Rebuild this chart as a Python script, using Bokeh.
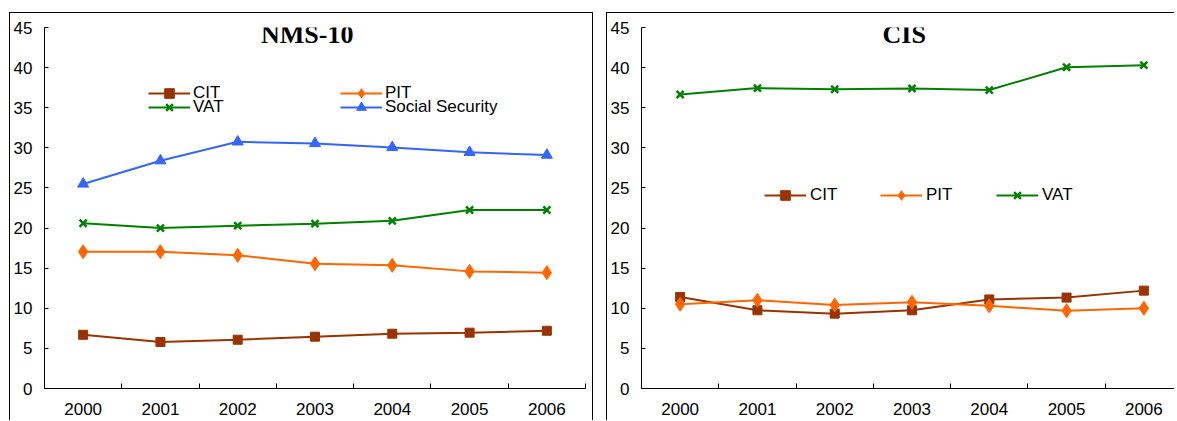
from bokeh.plotting import figure
from bokeh.models import Range1d, FixedTicker, Legend, LegendItem, Label, Spacer
from bokeh.layouts import row, column
from bokeh.embed import file_html
from bokeh.resources import INLINE

years = [2000, 2001, 2002, 2003, 2004, 2005, 2006]
y_ticks = [0, 5, 10, 15, 20, 25, 30, 35, 40, 45]

nms_cit = [6.7, 5.8, 6.08, 6.46, 6.83, 6.96, 7.2]
nms_pit = [17.05, 17.05, 16.6, 15.56, 15.35, 14.6, 14.44]
nms_vat = [20.6, 20.0, 20.3, 20.55, 20.9, 22.25, 22.25]
nms_ss = [25.5, 28.4, 30.75, 30.55, 30.05, 29.45, 29.1]

cis_cit = [11.4, 9.75, 9.33, 9.75, 11.1, 11.33, 12.2]
cis_pit = [10.5, 11.0, 10.4, 10.75, 10.3, 9.7, 10.0]
cis_vat = [36.65, 37.45, 37.3, 37.4, 37.2, 40.05, 40.3]

CIT_C = "#993300"
PIT_C = "#FF6600"
VAT_C = "#008000"
SS_C = "#3366FF"
SANS = "Liberation Sans"
SERIF = "Liberation Serif"


def make_panel(title, width, min_left, min_right, x_end, styles):
    p = figure(width=width, height=408, output_backend="svg", toolbar_location=None,
               x_range=Range1d(1999.5, x_end), y_range=Range1d(0, 45),
               min_border_left=min_left, min_border_right=min_right,
               min_border_top=14, min_border_bottom=33)
    p.styles = styles
    p.outline_line_alpha = 0
    p.xgrid.visible = False
    p.ygrid.visible = False
    p.background_fill_color = "white"
    p.border_fill_color = "white"

    p.yaxis.ticker = FixedTicker(ticks=y_ticks, minor_ticks=[])
    p.yaxis.major_tick_in = 4
    p.yaxis.major_tick_out = 0
    p.yaxis.minor_tick_in = 0
    p.yaxis.minor_tick_out = 0
    p.yaxis.major_label_standoff = 12

    p.xaxis.ticker = FixedTicker(ticks=years, minor_ticks=[1999.5 + i for i in range(8)])
    p.xaxis.major_tick_in = 0
    p.xaxis.major_tick_out = 0
    p.xaxis.minor_tick_in = 5
    p.xaxis.minor_tick_out = 0
    p.xaxis.major_label_standoff = 14

    for ax in (p.xaxis, p.yaxis):
        ax.axis_line_color = "black"
        ax.major_tick_line_color = "black"
        ax.minor_tick_line_color = "black"
        ax.major_label_text_font = SANS
        ax.major_label_text_font_size = "17px"
        ax.major_label_text_color = "black"

    p.add_layout(Label(x=2002.9, y=44.13, text=title, text_align="center",
                       text_baseline="middle", text_font=SERIF, text_font_style="bold",
                       text_font_size="26px", text_color="black"))
    return p


def add_series(p, vals, color, kind):
    l = p.line(years, vals, line_color=color, line_width=2)
    if kind == "square":
        m = p.scatter(years, vals, marker="square", size=9, fill_color=color, line_color=color)
    elif kind == "diamond":
        m = p.scatter(years, vals, marker="diamond", size=14, fill_color=color, line_color=color)
    elif kind == "triangle":
        m = p.scatter(years, vals, marker="triangle", size=11, fill_color=color, line_color=color)
    else:
        m = p.scatter(years, vals, marker="x", size=10, line_color=color, line_width=2.5)
    return [l, m]


def legend(items, loc, label_width, standoff):
    lg = Legend(items=items, location=loc, orientation="horizontal",
                glyph_width=42, glyph_height=24, label_width=label_width, label_height=24,
                label_standoff=standoff, spacing=0, padding=0, margin=0,
                border_line_alpha=0, background_fill_alpha=0,
                label_text_font=SANS, label_text_font_size="17px", label_text_color="black")
    return lg


X_END_LEFT = 2006.5
X_END_RIGHT = 1999.5 + 535 / 77.43

# Left panel: NMS-10
p1 = make_panel("NMS-10", 584, 33, 9, X_END_LEFT,
                {"border-left": "1px solid black", "border-top": "1px solid black",
                 "border-right": "1px solid black"})
r_cit = add_series(p1, nms_cit, CIT_C, "square")
r_pit = add_series(p1, nms_pit, PIT_C, "diamond")
r_vat = add_series(p1, nms_vat, VAT_C, "x")
r_ss = add_series(p1, nms_ss, SS_C, "triangle")
p1.add_layout(legend([LegendItem(label="CIT", renderers=r_cit),
                      LegendItem(label="PIT", renderers=r_pit)], (104, 283), 147, 3))
p1.add_layout(legend([LegendItem(label="VAT", renderers=r_vat),
                      LegendItem(label="Social Security", renderers=r_ss)], (104, 269), 147, 3))

# Right panel: CIS (cut at the window edge)
p2 = make_panel("CIS", 568, 33, 0, X_END_RIGHT,
                {"border-left": "1px solid black", "border-top": "1px solid black"})
c_cit = add_series(p2, cis_cit, CIT_C, "square")
c_pit = add_series(p2, cis_pit, PIT_C, "diamond")
c_vat = add_series(p2, cis_vat, VAT_C, "x")
p2.add_layout(legend([LegendItem(label="CIT", renderers=c_cit),
                      LegendItem(label="PIT", renderers=c_pit),
                      LegendItem(label="VAT", renderers=c_vat)], (123, 181), 70, 4))

layout = column(Spacer(height=12, width=10),
                row(Spacer(width=9, height=10), p1, Spacer(width=13, height=10), p2))

open("out.html", "w").write(file_html(layout, INLINE))
